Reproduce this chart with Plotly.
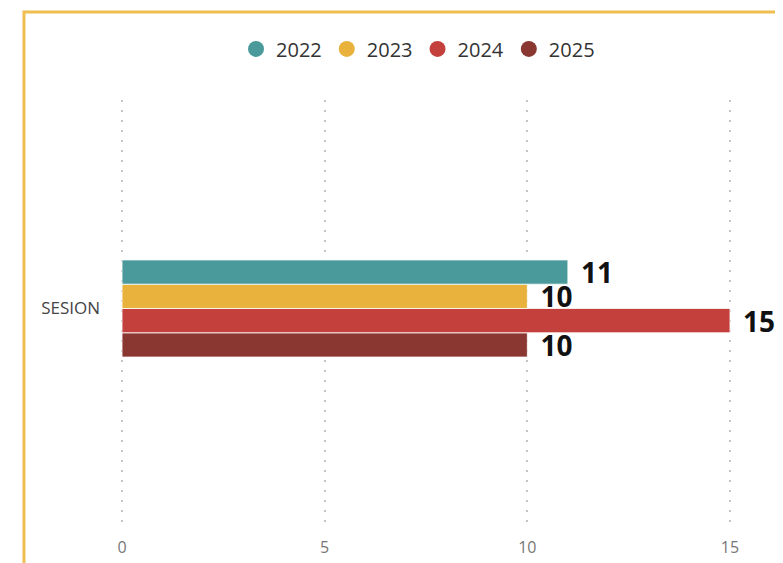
import plotly.graph_objects as go

categories = ["SESION"]
years = ["2022", "2023", "2024", "2025"]
values = [11, 10, 15, 10]
colors = ["#4A9A9B", "#E8B23C", "#C4403C", "#8A3731"]
tick_vals = [0, 5, 10, 15]

fig = go.Figure()

# bars (added in reverse so 2022 sits on top)
for yr, v, c in reversed(list(zip(years, values, colors))):
    fig.add_trace(go.Bar(
        y=categories, x=[v], orientation="h", name=yr,
        marker=dict(color=c, line=dict(color="white", width=0.8)),
        text=[v], texttemplate=" \u200a%{x}", textposition="outside",
        textfont=dict(family="Open Sans", size=28, color="#111111", weight="bold"),
        constraintext="none", cliponaxis=False, showlegend=False,
        hoverinfo="skip",
    ))

# legend entries with round markers
for yr, c in zip(years, colors):
    fig.add_trace(go.Scatter(
        x=[None], y=[None], mode="markers", name=yr,
        marker=dict(color=c, size=17, symbol="circle"),
    ))

fig.update_layout(
    width=767, height=555,
    margin=dict(l=112, r=0, t=92, b=37),
    paper_bgcolor="white", plot_bgcolor="white",
    barmode="group", bargap=0.772, bargroupgap=0,
    font=dict(family="Open Sans", color="#555555"),
    legend=dict(orientation="h", x=0.455, xanchor="center", y=1.12, yanchor="middle",
                font=dict(size=20, color="#333333"), itemsizing="trace",
                traceorder="normal", tracegroupgap=0, itemwidth=30),
    xaxis=dict(range=[-0.05, 16.11], tickvals=tick_vals, showgrid=True,
               gridcolor="#C4C4C4", griddash="2px,8px", gridwidth=1.5,
               zeroline=False, showline=False, ticks="",
               tickfont=dict(size=16, color="#777777"), ticklabelstandoff=10),
    yaxis=dict(range=[-0.5106, 0.4894], showgrid=False, zeroline=False,
               showline=False, ticks="", ticklabelstandoff=19,
               tickfont=dict(size=17, color="#444444")),
    shapes=[dict(type="rect", xref="paper", yref="paper",
                 x0=-0.1466, x1=1.3, y0=-0.3, y1=1.2066,
                 line=dict(color="#EFBE50", width=3), fillcolor="rgba(0,0,0,0)",
                 layer="below")],
)

fig.write_html("out.html")
